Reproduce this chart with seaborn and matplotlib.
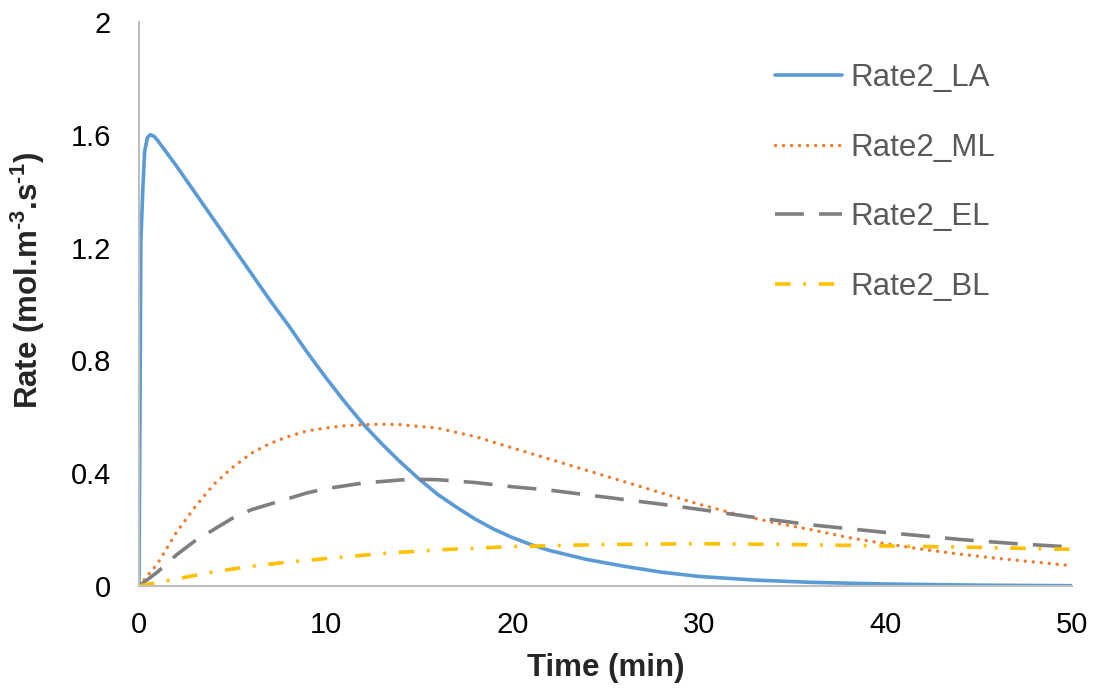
import numpy as np
import pandas as pd
import matplotlib
matplotlib.use("Agg")
import matplotlib.pyplot as plt
import seaborn as sns

# ---- data ----
t_la = [0, 0.1, 0.2, 0.3, 0.45, 0.6, 0.8, 1.0, 2, 3, 4, 5, 6, 7, 8, 9, 10, 11, 12, 13, 14, 15,
        16, 17, 18, 19, 20, 21, 22, 24, 26, 28, 30, 33, 36, 40, 45, 50]
rate_la = [0, 1.22, 1.40, 1.54, 1.59, 1.60, 1.595, 1.58, 1.49, 1.395, 1.30, 1.205, 1.11, 1.015, 0.925,
           0.83, 0.74, 0.655, 0.575, 0.505, 0.44, 0.38, 0.325, 0.28, 0.238, 0.202, 0.172, 0.147,
           0.126, 0.094, 0.07, 0.049, 0.034, 0.021, 0.013, 0.007, 0.003, 0.001]

t_ml = [0, 1, 2, 3, 4, 5, 6, 7, 8, 9, 10, 11, 12, 13, 14, 16, 18, 20, 22, 24, 26, 28, 30, 32,
        34, 36, 38, 40, 42, 44, 46, 48, 50]
rate_ml = [0, 0.08, 0.19, 0.28, 0.36, 0.42, 0.47, 0.505, 0.53, 0.55, 0.56, 0.568, 0.572, 0.574,
           0.572, 0.56, 0.53, 0.49, 0.45, 0.41, 0.37, 0.33, 0.29, 0.255, 0.225, 0.2, 0.172,
           0.15, 0.13, 0.113, 0.098, 0.085, 0.072]

t_el = [0, 1, 2, 3, 4, 5, 6, 7, 8, 9, 10, 12, 14, 15, 16, 18, 20, 22, 25, 28, 30, 33, 36, 40,
        44, 47, 50]
rate_el = [0, 0.05, 0.11, 0.16, 0.2, 0.24, 0.27, 0.29, 0.31, 0.33, 0.345, 0.365, 0.376, 0.378,
           0.377, 0.367, 0.352, 0.34, 0.315, 0.29, 0.272, 0.243, 0.217, 0.19, 0.165, 0.15, 0.138]

t_bl = [0, 2, 4, 5, 6, 8, 10, 13, 16, 20, 25, 30, 35, 40, 45, 50]
rate_bl = [0, 0.025, 0.05, 0.06, 0.07, 0.085, 0.097, 0.115, 0.128, 0.14, 0.147, 0.15, 0.147,
           0.142, 0.137, 0.13]

series_names = ["Rate2_LA", "Rate2_ML", "Rate2_EL", "Rate2_BL"]
x_ticks = [0, 10, 20, 30, 40, 50]
y_ticks = [0, 0.4, 0.8, 1.2, 1.6, 2]
y_tick_labels = ["0", "0.4", "0.8", "1.2", "1.6", "2"]

sns.set_style("white")
plt.rcParams["font.family"] = ["Liberation Sans", "DejaVu Sans"]
plt.rcParams["mathtext.fontset"] = "custom"
plt.rcParams["mathtext.rm"] = "Liberation Sans:bold"
plt.rcParams["mathtext.bf"] = "Liberation Sans:bold"
plt.rcParams["mathtext.it"] = "Liberation Sans:bold"

fig = plt.figure(figsize=(10.96, 6.89), dpi=100)
ax = fig.add_axes([139 / 1096, 1 - 586 / 689, (1072 - 139) / 1096, (586 - 22) / 689])

styles = [
    dict(color="#5B9BD5", lw=2.6, ls="-"),
    dict(color="#ED7D31", lw=2.5, ls=(0, (0.01, 2.3)), dash_capstyle="round"),
    dict(color="#7F7F7F", lw=2.6, ls=(0, (8.0, 4.2))),
    dict(color="#FFC000", lw=2.6, ls=(0, (4.3, 3.5, 0.8, 3.5))),
]
xs = [t_la, t_ml, t_el, t_bl]
ys = [rate_la, rate_ml, rate_el, rate_bl]
for name, x, y, st in zip(series_names, xs, ys, styles):
    df = pd.DataFrame({"Time": x, "Rate": y})
    sns.lineplot(data=df, x="Time", y="Rate", ax=ax, label=name, **st)

ax.set_xlim(0, 50)
ax.set_ylim(0, 2)
ax.set_xticks(x_ticks)
ax.set_xticklabels([str(v) for v in x_ticks])
ax.set_yticks(y_ticks)
ax.set_yticklabels(y_tick_labels)
ax.tick_params(axis="both", length=0, labelsize=21, colors="black")
ax.tick_params(axis="x", pad=18)
ax.tick_params(axis="y", pad=20)

for s in ["top", "right"]:
    ax.spines[s].set_visible(False)
for s in ["left", "bottom"]:
    ax.spines[s].set_color("#BFBFBF")
    ax.spines[s].set_linewidth(1.5)

ax.set_xlabel("Time (min)", fontsize=22.5, fontweight="bold", labelpad=10)
ax.set_ylabel(r"Rate (mol.m$^{\text{-3}}$.s$^{\text{-1}}$)", fontsize=22.5,
              fontweight="bold")
ax.yaxis.set_label_coords((47 - 139) / 933, (586 - 281) / 564)

leg = ax.legend(loc="upper left", bbox_to_anchor=(775 / 1096, 1 - 63 / 689),
                bbox_transform=fig.transFigure, frameon=False, fontsize=22.5,
                handlelength=2.15, handletextpad=0.26, labelspacing=1.27,
                borderpad=0, borderaxespad=0)
for txt in leg.get_texts():
    txt.set_color("#595959")

fig.savefig("out.png", dpi=100)
